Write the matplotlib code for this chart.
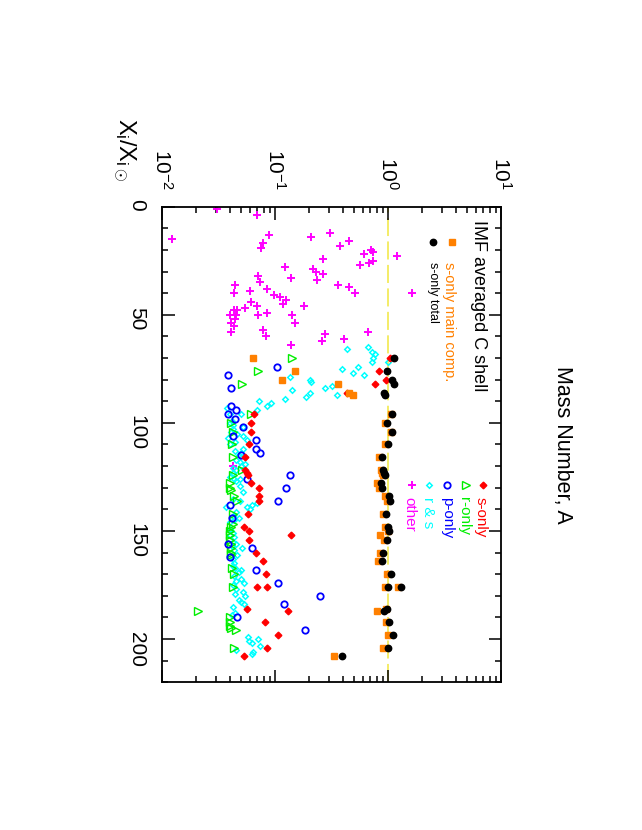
#plot.py
#IMF averaged C shell abundances, drawn turned by 90 degrees like the scanned page
import numpy as np
import matplotlib
matplotlib.use("Agg")
import matplotlib.pyplot as plt
from matplotlib.ticker import FixedLocator, LogLocator, MultipleLocator, NullFormatter

plt.rcParams['font.family'] = ['Liberation Sans', 'DejaVu Sans']
plt.rcParams['mathtext.fontset'] = 'custom'
plt.rcParams['mathtext.rm'] = 'Liberation Sans'
plt.rcParams['mathtext.it'] = 'Liberation Sans:italic'

#data: mass number A and log10(X_i/X_i,sun)
other_A = [1, 4, 15, 13, 17, 19, 14, 12, 18, 16, 24, 20, 21, 22, 27, 26, 25, 23,
           28, 29, 31, 30, 34, 33, 32, 35, 36, 36, 37, 40, 40, 38, 39, 40, 41, 42,
           43, 45, 44, 46, 47, 46, 48, 48, 50, 50, 50, 49, 50, 52, 54, 55, 54, 58,
           57, 60, 59, 62, 61, 58, 64, 120]
other_log = [-1.51, -1.16, -1.91, -1.05, -1.10, -1.12, -0.68, -0.51, -0.42, -0.34,
             -0.57, -0.15, -0.13, -0.21, -0.25, -0.17, -0.13, 0.08, -0.91, -0.66,
             -0.57, -0.64, -0.63, -0.86, -1.15, -1.13, -1.35, -0.44, -0.34, -0.29,
             0.21, -1.07, -1.22, -1.36, -1.01, -0.95, -0.90, -0.93, -1.21, -1.16,
             -1.26, -0.74, -1.36, -1.33, -1.40, -1.34, -1.15, -1.07, -0.85, -1.35,
             -1.39, -1.36, -0.82, -1.39, -1.10, -1.08, -0.56, -0.58, -0.39, -0.18,
             -0.86, -1.37]

rs_A = [66, 65, 67, 68, 70, 72, 72, 74, 75, 77, 78, 79, 80, 81, 83, 84, 87, 86,
        85, 88, 89, 91, 92, 90, 94, 93, 96, 96, 99, 101, 102, 104, 106, 107, 109,
        108, 113, 112, 115, 116, 117, 118, 119, 121, 122, 126, 126, 132, 135, 136,
        138, 137, 139, 139, 140, 141, 143, 144, 152, 155, 158, 163, 165, 168, 171,
        173, 174, 175, 177, 178, 179, 180, 182, 183, 184, 185, 188, 189, 199, 201,
        202, 200, 203, 206, 207, 205, 100, 103, 105, 110, 114, 120, 123, 125, 127,
        129, 145, 146, 149, 151, 153, 156, 157, 159, 161, 166, 167, 169, 172]
rs_log = [-0.36, -0.18, -0.14, -0.11, -0.13, -0.14, 0.00, -0.26, -0.41, -0.31,
          -0.21, -0.87, -0.69, -0.68, -0.49, -0.56, -0.45, -0.69, -0.85, -0.72,
          -0.91, -1.03, -1.07, -1.14, -1.16, -1.42, -1.40, -1.30, -1.38, -1.37,
          -1.28, -1.39, -1.28, -1.41, -1.35, -1.25, -1.35, -1.28, -1.32, -1.26,
          -1.34, -1.31, -1.26, -1.37, -1.34, -1.36, -1.31, -1.28, -1.37, -1.31,
          -1.20, -1.16, -1.25, -1.43, -1.22, -1.34, -1.37, -1.32, -1.40, -1.37,
          -1.29, -1.37, -1.36, -1.30, -1.36, -1.34, -1.27, -1.37, -1.34, -1.28,
          -1.35, -1.26, -1.32, -1.30, -1.27, -1.37, -1.35, -1.38, -1.24, -1.23,
          -1.20, -1.15, -1.13, -1.19, -1.20, -1.34, -1.40, -1.37, -1.33, -1.40,
          -1.30, -1.30, -1.37, -1.40, -1.34, -1.31, -1.36, -1.40, -1.40, -1.37,
          -1.36, -1.34, -1.38, -1.36, -1.33, -1.37, -1.35, -1.32, -1.30]

r_A = [70, 76, 82, 96, 100, 104, 110, 116, 122, 124, 128, 130, 131, 134, 136, 142,
       147, 148, 150, 152, 154, 156, 158, 160, 161, 167, 170, 176, 187, 190, 192,
       194, 195, 196, 204]
r_log = [-0.85, -1.15, -1.29, -1.21, -1.39, -1.37, -1.38, -1.37, -1.29, -1.37,
         -1.40, -1.40, -1.39, -1.36, -1.33, -1.37, -1.37, -1.39, -1.40, -1.40,
         -1.40, -1.39, -1.39, -1.39, -1.39, -1.38, -1.36, -1.37, -1.68, -1.40,
         -1.40, -1.40, -1.39, -1.34, -1.36]

p_A = [74, 78, 84, 92, 94, 96, 98, 102, 106, 108, 112, 114, 115, 124, 126, 130,
       136, 138, 144, 156, 158, 162, 168, 174, 180, 184, 190, 196]
p_log = [-0.98, -1.41, -1.39, -1.39, -1.34, -1.41, -1.35, -1.28, -1.37, -1.17,
         -1.17, -1.13, -1.30, -0.87, -1.25, -0.90, -0.97, -1.40, -1.38, -1.41,
         -1.20, -1.40, -1.17, -0.97, -0.60, -0.92, -1.33, -0.73]

s_A = [70, 76, 80, 82, 86, 96, 100, 104, 110, 116, 122, 123, 124, 128, 130, 134,
       136, 142, 148, 150, 152, 154, 160, 164, 170, 176, 176, 186, 187, 192, 198,
       204, 208]
s_log = [0.02, -0.08, -0.02, -0.11, -0.36, -1.18, -1.21, -1.21, -1.23, -1.26,
         -1.26, -1.25, -1.24, -1.21, -1.14, -1.14, -1.14, -1.24, -1.27, -1.23,
         -0.86, -1.23, -1.17, -1.10, -1.08, -1.16, -1.07, -1.25, -0.88, -1.09,
         -0.97, -1.07, -1.27]

main_A = [70, 76, 80, 82, 86, 87, 96, 100, 104, 110, 116, 122, 123, 124, 128, 130,
          134, 136, 142, 148, 150, 152, 154, 160, 164, 170, 176, 176, 186, 187, 192,
          198, 204, 208]
main_log = [-1.19, -0.82, -0.94, -0.44, -0.34, -0.31, 0.025, -0.03, 0.027, -0.03,
            -0.08, -0.06, -0.05, -0.045, -0.10, -0.08, -0.03, -0.01, -0.04, -0.03,
            0.0, -0.07, -0.035, -0.07, -0.09, -0.01, -0.025, 0.087, -0.017, -0.10,
            -0.02, 0.004, -0.04, -0.48]

total_A = [70, 76, 80, 82, 86, 87, 96, 100, 104, 110, 116, 122, 123, 124, 128, 130,
           134, 136, 142, 148, 150, 154, 160, 164, 170, 176, 176, 186, 187, 192,
           198, 204, 208]
total_log = [0.054, -0.011, 0.033, 0.054, -0.034, -0.026, 0.04, -0.005, 0.033, 0.0,
             -0.052, -0.04, -0.035, -0.025, -0.064, -0.052, 0.013, 0.019, -0.017,
             0.0, 0.013, -0.011, -0.04, -0.055, 0.028, 0.0, 0.116, -0.008, -0.035,
             0.012, 0.042, 0.0, -0.41]

W, H = 642, 830
fig = plt.figure(figsize=(W/100, H/100), dpi=100)
ax = fig.add_axes([161.7/W, 1-682.3/H, 339.3/W, 475.6/H])

#pixel position -> figure fraction
def px(x, y):
    return x/W, 1-y/H

#marker styles, shared by the plot and the legend
st_other = dict(marker='+', color='#ff00ff', ms=5.5, mew=1.4)
st_rs = dict(marker='D', mfc='none', mec='#00ffff', ms=2.8, mew=1.1)
st_r = dict(marker='>', mfc='none', mec='#00ee00', ms=5.2, mew=1.0)
st_p = dict(marker='o', mfc='none', mec='#0000ff', ms=4.6, mew=1.3)
st_s = dict(marker='D', color='#ff0000', ms=3.4)
st_main = dict(marker='s', color='#ff8000', ms=4.5)
st_total = dict(marker='o', color='black', ms=4.6)

ax.axvline(1.0, color='#f3ea5c', lw=1.3, dashes=(10, 3), zorder=1)

ax.plot(10**np.array(other_log), other_A, ls='none', **st_other)
ax.plot(10**np.array(rs_log), rs_A, ls='none', **st_rs)
ax.plot(10**np.array(r_log), r_A, ls='none', **st_r)
ax.plot(10**np.array(p_log), p_A, ls='none', **st_p)
ax.plot(10**np.array(s_log), s_A, ls='none', **st_s)
ax.plot(10**np.array(main_log), main_A, ls='none', **st_main)
ax.plot(10**np.array(total_log), total_A, ls='none', **st_total)

ax.set_xscale('log')
ax.set_xlim(1e-2, 1e1)
ax.set_ylim(220, 0)
ax.xaxis.set_major_locator(FixedLocator([1e-2, 1e-1, 1e0, 1e1]))
ax.xaxis.set_minor_locator(LogLocator(base=10, subs=np.arange(2, 10)))
ax.xaxis.set_minor_formatter(NullFormatter())
ax.set_xticklabels([r'$10^{-2}$', r'$10^{-1}$', r'$10^{0}$', r'$10^{1}$'])
ax.yaxis.set_major_locator(MultipleLocator(50))
ax.yaxis.set_minor_locator(MultipleLocator(10))

ax.tick_params(axis='x', which='both', direction='in', top=True, bottom=True,
               labeltop=True, labelbottom=False, labelrotation=-90, labelsize=15, pad=12)
ax.tick_params(axis='y', which='both', direction='in', left=True, right=True,
               labelrotation=-90, labelsize=15, pad=11)
ax.tick_params(which='major', length=9, width=1.1)
ax.tick_params(which='minor', length=4.5, width=1.1)
for s in ax.spines.values():
    s.set_linewidth(1.3)

#axis titles
fig.text(*px(563, 445), 'Mass Number, A', rotation=-90, ha='center', va='center', fontsize=15.5)
fig.text(*px(124, 150), r'$\mathrm{X_i/X_{i\odot}}$', rotation=-90, ha='center', va='center', fontsize=17)

#first legend
fig.text(*px(479, 220), 'IMF averaged C shell', rotation=-90, ha='center', va='top', fontsize=13)
ax.plot(*px(451.7, 242), transform=fig.transFigure, clip_on=False, **st_main)
fig.text(*px(449, 262), 's-only main comp.', color='#ff8000', rotation=-90, ha='center', va='top', fontsize=10.5)
ax.plot(*px(433, 242), transform=fig.transFigure, clip_on=False, **st_total)
fig.text(*px(433, 262), 's-only total', rotation=-90, ha='center', va='top', fontsize=9)

#second legend
leg_names = ['s-only', 'r-only', 'p-only', 'r & s', 'other']
leg_cols = ['#ff0000', '#00ee00', '#0000ff', '#00ffff', '#ff00ff']
leg_marks = [st_s, st_r, st_p, st_rs, st_other]
mark_x = [483, 466, 447, 429, 412]
text_x = [481, 464, 447, 428, 409]
for name, col, mk, mx, tx in zip(leg_names, leg_cols, leg_marks, mark_x, text_x):
    ax.plot(*px(mx, 485), transform=fig.transFigure, clip_on=False, ls='none', **mk)
    fig.text(*px(tx, 497), name, color=col, rotation=-90, ha='center', va='top', fontsize=11)

fig.savefig('out.png', dpi=100)
